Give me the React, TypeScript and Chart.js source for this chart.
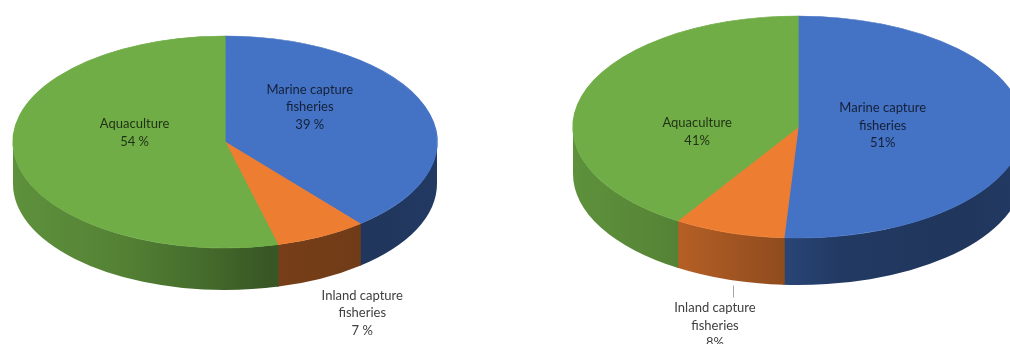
import React, { useEffect, useRef } from "react";
import { Chart, registerables } from "chart.js";

Chart.register(...registerables);

// Slices, in drawing order (clockwise from 12 o'clock)
const categories = ["Marine capture fisheries", "Inland capture fisheries", "Aquaculture"];
const labelLines = [["Marine capture", "fisheries"], ["Inland capture", "fisheries"], ["Aquaculture"]];
const leftShares = [39, 7, 54];
const rightShares = [51, 8, 41];
const leftSuffix = " %";
const rightSuffix = "%";
const sliceColors = ["#4472C4", "#ED7D31", "#70AD47"];

type LabelPlace = { inside: boolean; dx: number; dy: number; leader?: [number, number, number] };

type View = {
  cx: number;
  cy: number;
  rx: number;
  ry: number;
  depth: number;
  suffix: string;
  places: LabelPlace[];
};

const leftView: View = {
  cx: 225,
  cy: 142,
  rx: 212,
  ry: 106,
  depth: 42,
  suffix: leftSuffix,
  places: [
    { inside: true, dx: -1, dy: -19.5 },
    { inside: false, dx: 41, dy: 34.5 },
    { inside: true, dx: 0, dy: -15 },
  ],
};

const rightView: View = {
  cx: 293,
  cy: 127,
  rx: 225,
  ry: 111,
  depth: 47,
  suffix: rightSuffix,
  places: [
    { inside: true, dx: -12, dy: -3 },
    { inside: false, dx: -13.5, dy: 46, leader: [4.5, 6, 18] },
    { inside: true, dx: -8, dy: 18 },
  ],
};

function shade(hex: string, f: number): string {
  const n = parseInt(hex.slice(1), 16);
  const r = Math.round(((n >> 16) & 255) * f);
  const g = Math.round(((n >> 8) & 255) * f);
  const b = Math.round((n & 255) * f);
  return `rgb(${r},${g},${b})`;
}

// Side-wall brightness across the width of the disc (left lit, front/right in shade)
const sideStops: [number, number][] = [
  [0, 0.84],
  [0.25, 0.75],
  [0.46, 0.61],
  [0.6, 0.5],
  [0.85, 0.47],
  [1, 0.5],
];

const FONT = "13px Lato, 'Open Sans', sans-serif";
const LINE_H = 17.5;

// Draws the flat pie as a tilted disc with a visible front rim.
const pie3d = {
  id: "pie3d",
  beforeDatasetsDraw(chart: any, _args: any, opts: any) {
    const view: View = opts.view;
    const arcs = chart.getDatasetMeta(0).data;
    if (!view || !arcs.length) return;
    const { cx, cy, rx, ry, depth } = view;
    const ctx: CanvasRenderingContext2D = chart.ctx;
    const colors = chart.data.datasets[0].backgroundColor as string[];

    arcs.forEach((arc: any, i: number) => {
      const { startAngle, endAngle } = arc.getProps(["startAngle", "endAngle"], true);
      const t0 = Math.max(startAngle, 0);
      const t1 = Math.min(endAngle, Math.PI);
      if (t1 <= t0) return;
      const g = ctx.createLinearGradient(cx - rx, 0, cx + rx, 0);
      sideStops.forEach(([p, f]) => g.addColorStop(p, shade(colors[i], f)));
      ctx.beginPath();
      ctx.ellipse(cx, cy, rx, ry, 0, t0 - 0.004, t1 + 0.004);
      ctx.ellipse(cx, cy + depth, rx, ry, 0, t1 + 0.004, t0 - 0.004, true);
      ctx.closePath();
      ctx.fillStyle = g;
      ctx.fill();
    });

    const a = arcs[0];
    ctx.save();
    ctx.translate(cx, cy);
    ctx.scale(rx / a.outerRadius, ry / a.outerRadius);
    ctx.translate(-a.x, -a.y);
  },
  afterDatasetsDraw(chart: any, _args: any, opts: any) {
    if (!opts.view || !chart.getDatasetMeta(0).data.length) return;
    chart.ctx.restore();
  },
  afterDraw(chart: any, _args: any, opts: any) {
    const view: View = opts.view;
    if (!view) return;
    const { cx, cy, rx, ry, depth, suffix, places } = view;
    const ctx: CanvasRenderingContext2D = chart.ctx;
    const values = chart.data.datasets[0].data as number[];
    const arcs = chart.getDatasetMeta(0).data;
    ctx.save();
    ctx.font = FONT;
    ctx.textAlign = "center";
    ctx.textBaseline = "middle";
    arcs.forEach((arc: any, i: number) => {
      const { startAngle, endAngle } = arc.getProps(["startAngle", "endAngle"], true);
      const mid = (startAngle + endAngle) / 2;
      const place = places[i];
      const lines = [...labelLines[i], `${values[i]}${suffix}`];
      let ax: number;
      let ay: number;
      if (place.inside) {
        ax = cx + rx * 0.43 * Math.cos(mid);
        ay = cy + ry * 0.43 * Math.sin(mid);
        ctx.fillStyle = "rgba(0,0,0,0.72)";
      } else {
        ax = cx + rx * Math.cos(mid);
        ay = cy + depth + ry * Math.sin(mid);
        ctx.fillStyle = "#404040";
        if (place.leader) {
          const [lx, y0, y1] = place.leader;
          ctx.strokeStyle = "#a6a6a6";
          ctx.lineWidth = 1;
          ctx.beginPath();
          ctx.moveTo(Math.round(ax + lx) + 0.5, ay + y0);
          ctx.lineTo(Math.round(ax + lx) + 0.5, ay + y1);
          ctx.stroke();
        }
      }
      const x = ax + place.dx;
      const yc = ay + place.dy;
      const top = yc - ((lines.length - 1) * LINE_H) / 2;
      lines.forEach((t, k) => ctx.fillText(t, x, top + k * LINE_H));
    });
    ctx.restore();
  },
};

function Pie3D({ values, view, left }: { values: number[]; view: View; left: number }) {
  const ref = useRef<HTMLCanvasElement | null>(null);
  useEffect(() => {
    if (!ref.current) return;
    const chart = new Chart(ref.current, {
      type: "pie",
      data: {
        labels: categories,
        datasets: [
          {
            data: values,
            backgroundColor: sliceColors,
            borderColor: sliceColors,
            borderWidth: 1,
            clip: false,
          } as any,
        ],
      },
      options: {
        responsive: false,
        animation: false,
        devicePixelRatio: 1,
        events: [],
        layout: { padding: 0 },
        plugins: {
          legend: { display: false },
          tooltip: { enabled: false },
          pie3d: { view },
        } as any,
      },
      plugins: [pie3d],
    });
    return () => chart.destroy();
  }, [values, view]);
  return (
    <canvas
      ref={ref}
      width={505}
      height={344}
      style={{ position: "absolute", left, top: 0, width: 505, height: 344 }}
    />
  );
}

export default function App() {
  return (
    <div
      style={{
        position: "absolute",
        left: 0,
        top: 0,
        width: 1010,
        height: 344,
        background: "#ffffff",
        overflow: "hidden",
      }}
    >
      <Pie3D values={leftShares} view={leftView} left={0} />
      <Pie3D values={rightShares} view={rightView} left={505} />
    </div>
  );
}
